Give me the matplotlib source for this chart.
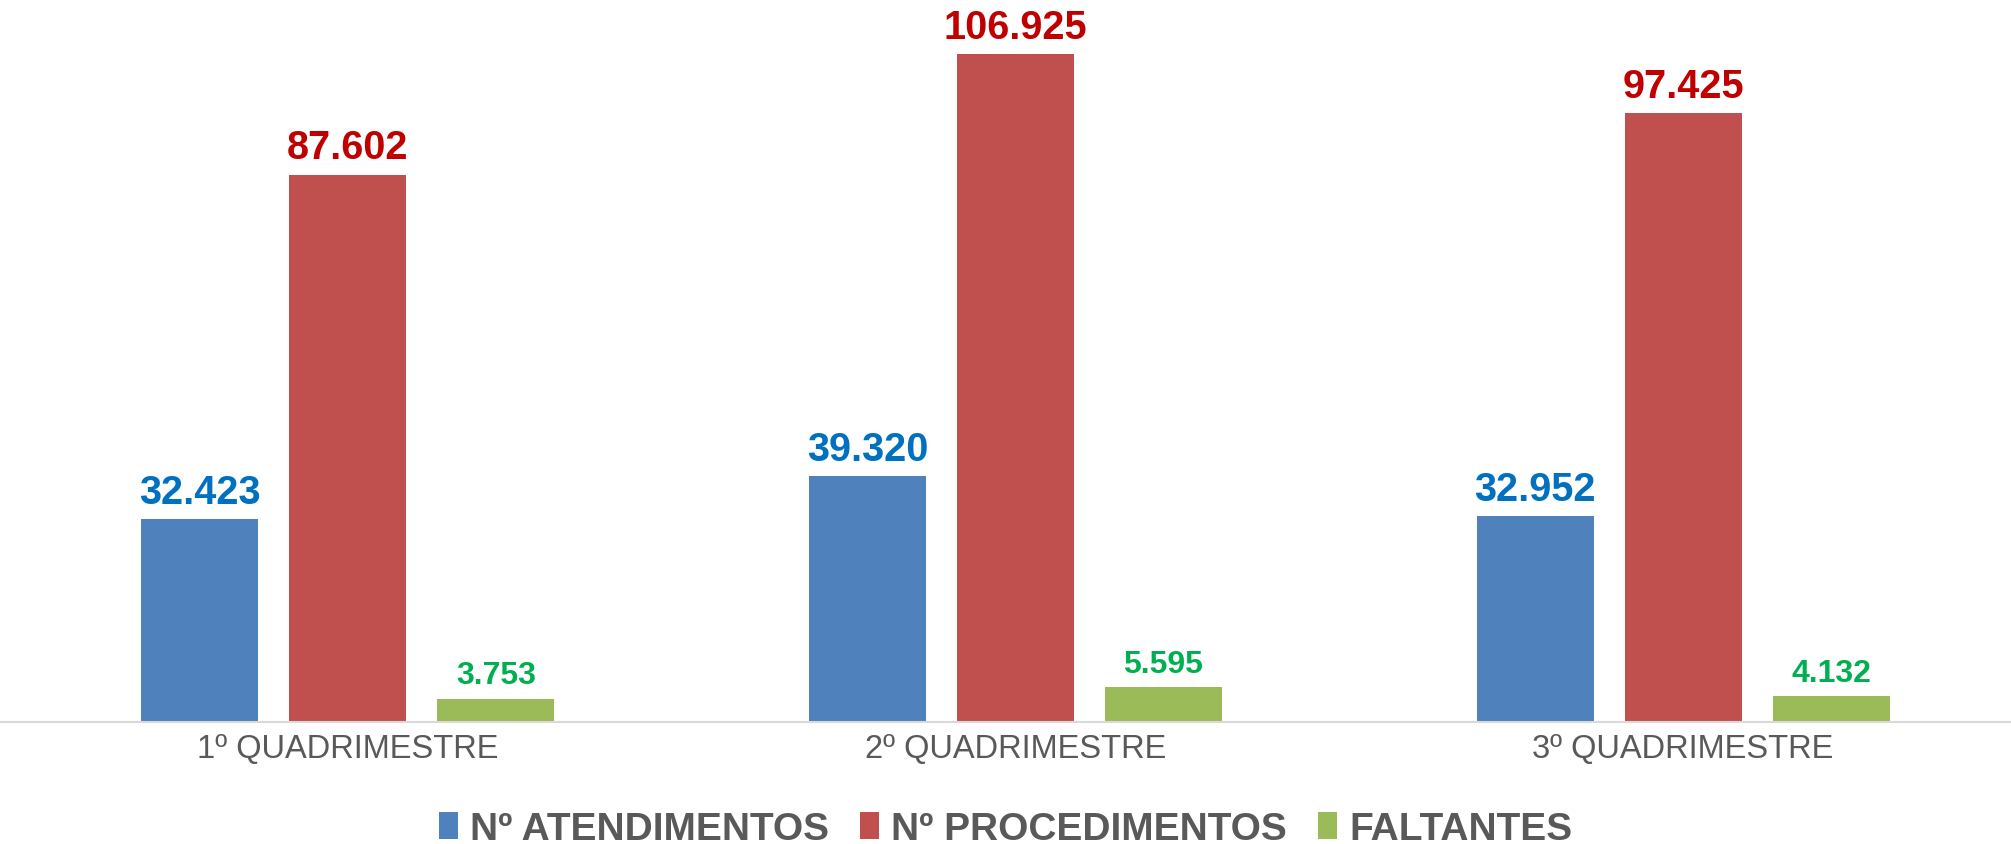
import matplotlib
matplotlib.use("Agg")
import matplotlib.pyplot as plt
import numpy as np
from matplotlib.patches import Patch

categories = ["1º QUADRIMESTRE", "2º QUADRIMESTRE", "3º QUADRIMESTRE"]
series_names = ["Nº ATENDIMENTOS", "Nº PROCEDIMENTOS", "FALTANTES"]
atendimentos = [32423, 39320, 32952]
procedimentos = [87602, 106925, 97425]
faltantes = [3753, 5595, 4132]

bar_colors = ["#4f81bd", "#c0504d", "#9bbb59"]
label_colors = ["#0070c0", "#c00000", "#00b050"]
label_sizes = [28.5, 28.5, 23]

plt.rcParams['font.family'] = ['Liberation Sans', 'DejaVu Sans']

fig = plt.figure(figsize=(20.11, 8.45), dpi=100)
H = 845.0
ax = fig.add_axes([0, (H - 723) / H, 1, (723 - 5) / H])

per_px = 106925 / 668.0
ax.set_ylim(0, (723 - 5) * per_px)
ax.set_xlim(-348 / 668.0, 2 + (2011 - 1683) / 668.0)

x = np.arange(len(categories))
width = 0.175
step = 0.2216
series = [atendimentos, procedimentos, faltantes]

def fmt(v):
    return f"{v:,}".replace(",", ".")

for i, (vals, c, lc, ls) in enumerate(zip(series, bar_colors, label_colors, label_sizes)):
    xs = x + (i - 1) * step
    ax.bar(xs, vals, width=width, color=c, zorder=2)
    for xi, v in zip(xs, vals):
        ax.annotate(fmt(v), (xi, v), xytext=(0, 6), textcoords='offset points',
                    ha='center', va='bottom', fontsize=ls, fontweight='bold', color=lc)

for s in ['top', 'right', 'left']:
    ax.spines[s].set_visible(False)
ax.spines['bottom'].set_color('#d9d9d9')
ax.spines['bottom'].set_linewidth(1.5)
ax.set_yticks([])
ax.set_xticks(x)
ax.set_xticklabels(categories, fontsize=23.5, color='#595959')
ax.tick_params(axis='x', length=0, pad=8)

handles = [Patch(facecolor=c) for c in bar_colors]
fig.legend(handles, series_names, loc='center', bbox_to_anchor=(0.5, (H - 830) / H),
           ncol=3, frameon=False, prop={'size': 28, 'weight': 'bold'},
           labelcolor='#595959', handlelength=0.5, handleheight=0.67,
           handletextpad=0.3, columnspacing=0.8)

fig.savefig("out.png", dpi=100, facecolor='white')
